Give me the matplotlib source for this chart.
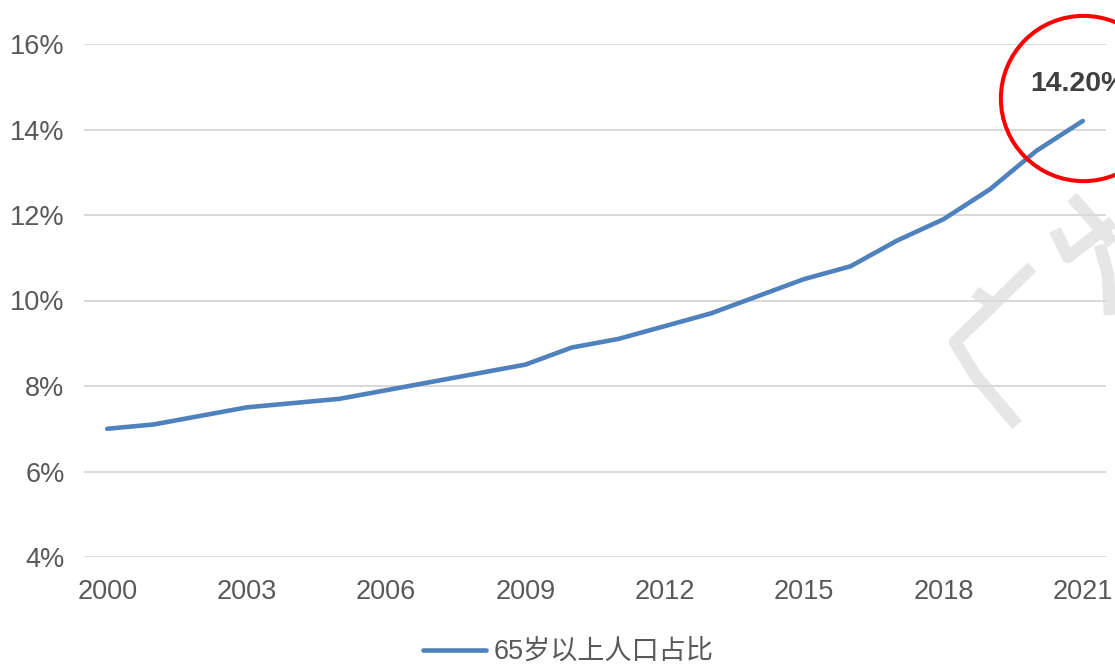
import matplotlib
matplotlib.use("Agg")
import matplotlib.pyplot as plt
from matplotlib.lines import Line2D
from matplotlib.transforms import offset_copy

plt.rcParams['font.family'] = ['Liberation Sans', 'Noto Sans CJK SC', 'DejaVu Sans']

years = list(range(2000, 2022))
share = [7.0, 7.1, 7.3, 7.5, 7.6, 7.7, 7.9, 8.1, 8.3, 8.5, 8.9,
         9.1, 9.4, 9.7, 10.1, 10.5, 10.8, 11.4, 11.9, 12.6, 13.5, 14.2]
xticks = list(range(2000, 2022, 3))
yticks = [4, 6, 8, 10, 12, 14, 16]
series_name = "65岁以上人口占比"
highlight_label = "14.20%"

W, H = 1115, 664
fig = plt.figure(figsize=(W / 100, H / 100), dpi=100)
ax = fig.add_axes([84 / W, (H - 557) / H, (1106 - 84) / W, (557 - 44) / H])

# watermark strokes (decoration)
wm = dict(color='#e6e6e6', lw=9, solid_capstyle='butt', zorder=0)
for xs, ys in [([1032, 955, 975, 1017], [267, 342, 375, 425]),
               ([975, 990], [292, 302]),
               ([1072, 1113], [197, 243]),
               ([1055, 1068, 1113], [230, 257, 222]),
               ([1100, 1108, 1110], [245, 275, 315])]:
    fig.add_artist(Line2D([x / W for x in xs], [1 - y / H for y in ys],
                          transform=fig.transFigure, **wm))

ax.plot(years, share, color='#4F81BD', lw=3.3, solid_capstyle='round',
        label=series_name, zorder=3)

ax.set_xlim(1999.5, 2021.5)
ax.set_ylim(4, 16)
ax.set_xticks(xticks)
ax.set_xticklabels([str(x) for x in xticks])
ax.set_yticks(yticks)
ax.set_yticklabels([f"{y}%" for y in yticks])
ax.grid(axis='y', color='#d9d9d9', lw=1.4)
ax.set_axisbelow(True)
for s in ax.spines.values():
    s.set_visible(False)
ax.tick_params(axis='both', length=0, labelsize=19.5, labelcolor='#595959')
ax.tick_params(axis='x', pad=16)
ax.tick_params(axis='y', pad=14)
ax.patch.set_alpha(0)

# red highlight circle around the last point
tr = offset_copy(ax.transData, fig=fig, x=0, y=23, units='dots')
ax.plot([years[-1]], [share[-1]], marker='o', markersize=119, mfc='none',
        mec='#ff0000', mew=2.9, transform=tr, clip_on=False, zorder=4)
ax.annotate(highlight_label, (years[-1], share[-1]), xytext=(-53, 37),
            textcoords='offset pixels', ha='left', va='center',
            fontsize=20.5, fontweight='bold', color='#404040',
            annotation_clip=False, zorder=5)

fig.legend(loc='center', bbox_to_anchor=(0.510, 1 - 652 / H), frameon=False,
           fontsize=19.5, labelcolor='#595959', handlelength=2.3,
           handletextpad=0.3)

fig.savefig('out.png', dpi=100)
